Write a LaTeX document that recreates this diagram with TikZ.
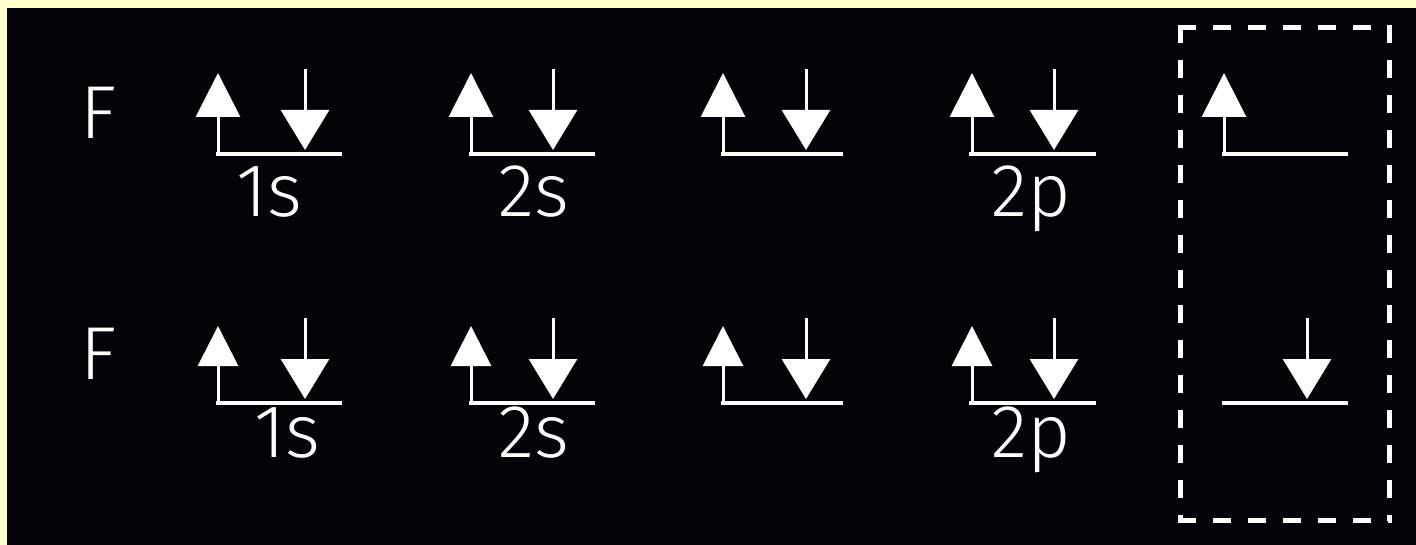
\documentclass[tikz,border=0pt]{standalone}
\usepackage{fontspec}
\setmainfont{Liberation Sans}
\IfFontExistsTF{Fira Sans Light}
  {\newfontfamily\thinfont{Fira Sans Light}\newcommand\labelsize{\fontsize{75}{82}\selectfont}}
  {\newfontfamily\thinfont{Liberation Sans}\newcommand\labelsize{\fontsize{72}{80}\selectfont}}
\usetikzlibrary{arrows.meta}
\definecolor{frameyellow}{RGB}{255,255,204}
\definecolor{bg}{RGB}{4,3,7}
\tikzset{
  level/.style={white, line width=4pt},
  upspin/.style={white, line width=3pt, -{Triangle[length=44pt,width=44pt]}},
  upspinsmall/.style={white, line width=3pt, -{Triangle[length=40pt,width=40pt]}},
  downspin/.style={white, line width=3pt, -{Triangle[length=40pt,width=48pt]}},
  lbl/.style={white, inner sep=0pt, anchor=base, font=\thinfont\labelsize},
  atom/.style={white, inner sep=0pt, anchor=base, font=\thinfont\labelsize},
  boxline/.style={white, line width=5pt, dash pattern=on 18pt off 17pt}
}
\begin{document}
\begin{tikzpicture}[x=1pt,y=-1pt]
\useasboundingbox (0,0) rectangle (1416,545);
\fill[frameyellow] (0,0) rectangle (1416,545);
\fill[bg] (7,8) rectangle (1416,545);

% ---------- row 1 ----------
\node[atom] (F1) at (99,139) {F};
\coordinate (a1l) at (216,154); \coordinate (a1r) at (342,154);
\coordinate (a2l) at (469,154); \coordinate (a2r) at (595,154);
\coordinate (a3l) at (721,154); \coordinate (a3r) at (843,154);
\coordinate (a4l) at (969,154); \coordinate (a4r) at (1096,154);
\coordinate (a5l) at (1222,154); \coordinate (a5r) at (1348,154);
\foreach \i in {1,...,5} {\draw[level] (a\i l) -- (a\i r);}
\foreach \x [count=\i] in {218,471,723,972,1224} {
  \coordinate (ua\i) at (\x,154); \coordinate (uat\i) at (\x,73);
  \draw[upspin] (ua\i) -- (uat\i);
}
\foreach \x [count=\i] in {305,553,806,1054} {
  \coordinate (da\i) at (\x,69); \coordinate (dat\i) at (\x,150);
  \draw[downspin] (da\i) -- (dat\i);
}
\node[lbl] (l1s) at (269,217) {1s};
\node[lbl] (l2s) at (534,217) {2s};
\node[lbl] (l2p) at (1031,217) {2p};

% ---------- row 2 ----------
\node[atom] (F2) at (99,379) {F};
\coordinate (b1l) at (216,403); \coordinate (b1r) at (342,403);
\coordinate (b2l) at (469,403); \coordinate (b2r) at (595,403);
\coordinate (b3l) at (721,403); \coordinate (b3r) at (843,403);
\coordinate (b4l) at (969,403); \coordinate (b4r) at (1096,403);
\coordinate (b5l) at (1222,403); \coordinate (b5r) at (1348,403);
\foreach \i in {1,...,5} {\draw[level] (b\i l) -- (b\i r);}
\foreach \x [count=\i] in {218,471,723,972} {
  \coordinate (ub\i) at (\x,403); \coordinate (ubt\i) at (\x,326);
  \draw[upspinsmall] (ub\i) -- (ubt\i);
}
\foreach \x [count=\i] in {305,553,806,1054,1307} {
  \coordinate (db\i) at (\x,318); \coordinate (dbt\i) at (\x,399);
  \draw[downspin] (db\i) -- (dbt\i);
}
\node[lbl] (m1s) at (287,457) {1s};
\node[lbl] (m2s) at (534,457) {2s};
\node[lbl] (m2p) at (1031,457) {2p};

% ---------- dashed box ----------
\coordinate (bx1) at (1178,27.5);
\coordinate (bx2) at (1389.5,27.5);
\coordinate (bx3) at (1180.5,25);
\coordinate (bx4) at (1180.5,520.5);
\coordinate (bx5) at (1389.5,25);
\coordinate (bx6) at (1389.5,520.5);
\coordinate (bx7) at (1178,520.5);
\coordinate (bx8) at (1392,520.5);
\draw[boxline] (bx1) -- (bx2);
\draw[boxline] (bx3) -- (bx4);
\draw[boxline] (bx5) -- (bx6);
\draw[boxline] (bx7) -- (bx8);
\end{tikzpicture}
\end{document}
